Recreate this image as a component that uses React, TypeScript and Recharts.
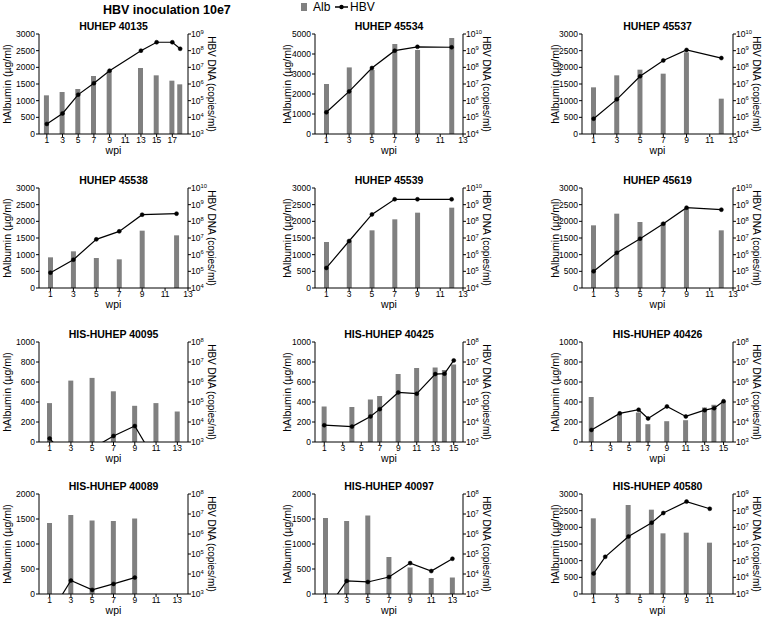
import React from 'react';
import { ComposedChart, Bar, Line, XAxis, YAxis } from 'recharts';

const FONT = '"Liberation Sans", Arial, Helvetica, sans-serif';
const BAR = '#808080';

// HUHEP 40135
const wpi40135 = [1, 3, 5, 7, 9, 13, 15, 17, 18];
const alb40135 = [1160, 1260, 1350, 1740, 1900, 1980, 1760, 1600, 1490];
const hbv40135 = [4.0e3, 1.7e4, 2.3e5, 1.1e6, 6.3e6, 1.0e8, 3.2e8, 3.2e8, 1.3e8];

// HUHEP 45534
const wpi45534 = [1, 3, 5, 7, 9, 12];
const alb45534 = [2500, 3330, 3200, 4500, 4200, 4800];
const hbv45534 = [2.0e5, 3.6e6, 9.1e7, 1.0e9, 1.7e9, 1.6e9];

// HUHEP 45537
const wpi45537 = [1, 3, 5, 7, 9, 12];
const alb45537 = [1400, 1760, 1930, 1810, 2450, 1060];
const hbv45537 = [8.3e4, 1.2e6, 2.9e7, 2.6e8, 1.1e9, 3.6e8];

// HUHEP 45538
const wpi45538 = [1, 3, 5, 7, 9, 12];
const alb45538 = [920, 1100, 900, 860, 1720, 1580];
const hbv45538 = [8.3e4, 5.0e5, 8.3e6, 2.5e7, 2.5e8, 2.9e8];

// HUHEP 45539
const wpi45539 = [1, 3, 5, 7, 9, 12];
const alb45539 = [1380, 1430, 1730, 2060, 2260, 2410];
const hbv45539 = [1.6e5, 6.6e6, 2.6e8, 2.1e9, 2.1e9, 2.1e9];

// HUHEP 45619
const wpi45619 = [1, 3, 5, 7, 9, 12];
const alb45619 = [1880, 2230, 1980, 1960, 2380, 1730];
const hbv45619 = [1.0e5, 1.3e6, 9.1e6, 7.2e7, 6.6e8, 5.0e8];

// HIS-HUHEP 40095
const wpi40095 = [1, 3, 5, 7, 9, 11, 13];
const alb40095 = [389, 614, 641, 507, 362, 389, 305];
const hbv40095 = [1.5e3, 1.0e2, 4.8e2, 2.0e3, 6.3e3, 1.0e2, null];

// HIS-HUHEP 40425
const wpi40425 = [1, 4, 6, 7, 9, 11, 13, 14, 15];
const alb40425 = [355, 350, 425, 460, 680, 740, 745, 720, 775];
const hbv40425 = [6.9e3, 5.9e3, 1.9e4, 4.4e4, 3.0e5, 2.6e5, 2.5e6, 2.6e6, 1.2e7];

// HIS-HUHEP 40426
const wpi40426 = [1, 4, 6, 7, 9, 11, 13, 14, 15];
const alb40426 = [450, 278, 295, 178, 208, 218, 345, 372, 403];
const hbv40426 = [4.0e3, 2.7e4, 4.1e4, 1.5e4, 6.0e4, 1.9e4, 3.9e4, 4.9e4, 1.1e5];

// HIS-HUHEP 40089
const wpi40089 = [1, 3, 5, 7, 9];
const alb40089 = [1420, 1580, 1470, 1460, 1510];
const hbv40089 = [9.0e1, 4.7e3, 1.6e3, 3.2e3, 6.6e3];

// HIS-HUHEP 40097
const wpi40097 = [1, 3, 5, 7, 9, 11, 13];
const alb40097 = [1520, 1460, 1570, 740, 530, 320, 330];
const hbv40097 = [1.4e2, 4.5e3, 4.0e3, 7.1e3, 3.5e4, 1.4e4, 5.8e4];

// HIS-HUHEP 40580
const wpi40580 = [1, 2, 4, 6, 7, 9, 11];
const alb40580 = [2270, null, 2670, 2530, 1820, 1840, 1540];
const hbv40580 = [1.7e4, 1.7e5, 2.8e6, 1.9e7, 7.2e7, 3.5e8, 1.3e8];

const wpiTicks17 = [1, 3, 5, 7, 9, 11, 13, 15, 17];
const wpiTicks15 = [1, 3, 5, 7, 9, 11, 13, 15];
const wpiTicks13 = [1, 3, 5, 7, 9, 11, 13];
const wpiTicks11 = [1, 3, 5, 7, 9, 11];

const albTicks3000 = [0, 500, 1000, 1500, 2000, 2500, 3000];
const albTicks5000 = [0, 1000, 2000, 3000, 4000, 5000];
const albTicks2000 = [0, 500, 1000, 1500, 2000];
const albTicks1000 = [0, 200, 400, 600, 800, 1000];

const hbvTicks3to9 = [1e3, 1e4, 1e5, 1e6, 1e7, 1e8, 1e9];
const hbvTicks4to10 = [1e4, 1e5, 1e6, 1e7, 1e8, 1e9, 1e10];
const hbvTicks3to8 = [1e3, 1e4, 1e5, 1e6, 1e7, 1e8];

const panels = [
  { title: 'HUHEP 40135', wpi: wpi40135, alb: alb40135, hbv: hbv40135, xMax: 19, xTicks: wpiTicks17, albTicks: albTicks3000, hbvTicks: hbvTicks3to9, row: 0, col: 0 },
  { title: 'HUHEP 45534', wpi: wpi45534, alb: alb45534, hbv: hbv45534, xMax: 13, xTicks: wpiTicks13, albTicks: albTicks5000, hbvTicks: hbvTicks4to10, row: 0, col: 1 },
  { title: 'HUHEP 45537', wpi: wpi45537, alb: alb45537, hbv: hbv45537, xMax: 13, xTicks: wpiTicks13, albTicks: albTicks3000, hbvTicks: hbvTicks4to10, row: 0, col: 2 },
  { title: 'HUHEP 45538', wpi: wpi45538, alb: alb45538, hbv: hbv45538, xMax: 13, xTicks: wpiTicks13, albTicks: albTicks3000, hbvTicks: hbvTicks4to10, row: 1, col: 0 },
  { title: 'HUHEP 45539', wpi: wpi45539, alb: alb45539, hbv: hbv45539, xMax: 13, xTicks: wpiTicks13, albTicks: albTicks3000, hbvTicks: hbvTicks4to10, row: 1, col: 1 },
  { title: 'HUHEP 45619', wpi: wpi45619, alb: alb45619, hbv: hbv45619, xMax: 13, xTicks: wpiTicks13, albTicks: albTicks3000, hbvTicks: hbvTicks4to10, row: 1, col: 2 },
  { title: 'HIS-HUHEP 40095', wpi: wpi40095, alb: alb40095, hbv: hbv40095, xMax: 14, xTicks: wpiTicks13, albTicks: albTicks1000, hbvTicks: hbvTicks3to8, row: 2, col: 0 },
  { title: 'HIS-HUHEP 40425', wpi: wpi40425, alb: alb40425, hbv: hbv40425, xMax: 16, xTicks: wpiTicks15, albTicks: albTicks1000, hbvTicks: hbvTicks3to8, row: 2, col: 1 },
  { title: 'HIS-HUHEP 40426', wpi: wpi40426, alb: alb40426, hbv: hbv40426, xMax: 16, xTicks: wpiTicks15, albTicks: albTicks1000, hbvTicks: hbvTicks3to8, row: 2, col: 2 },
  { title: 'HIS-HUHEP 40089', wpi: wpi40089, alb: alb40089, hbv: hbv40089, xMax: 14, xTicks: wpiTicks13, albTicks: albTicks2000, hbvTicks: hbvTicks3to8, row: 3, col: 0 },
  { title: 'HIS-HUHEP 40097', wpi: wpi40097, alb: alb40097, hbv: hbv40097, xMax: 14, xTicks: wpiTicks13, albTicks: albTicks2000, hbvTicks: hbvTicks3to8, row: 3, col: 1 },
  { title: 'HIS-HUHEP 40580', wpi: wpi40580, alb: alb40580, hbv: hbv40580, xMax: 13, xTicks: wpiTicks11, albTicks: albTicks3000, hbvTicks: hbvTicks3to9, row: 3, col: 2 },
];

// plot-area layout
const ROW_TOP = [34, 188, 342, 494];
const COLS = [
  { left: 39, width: 149, labelDx: -2 },
  { left: 315, width: 148, labelDx: 2 },
  { left: 582, width: 151, labelDx: 3 },
];
const PLOT_H = 100;
const SIDE = 60;
const PAD = 6;
const XH = 25;

const PowTick = (props: any) => {
  const { x, y, payload } = props;
  const exp = Math.round(Math.log10(payload.value));
  return (
    <text x={x} y={y} dy={3} fontSize={8.5} fill="#000" textAnchor="start">
      10
      <tspan dy={-3.5} fontSize={5.8}>{exp}</tspan>
    </text>
  );
};

function Panel({ p }: { p: any }) {
  const c = COLS[p.col];
  const top = ROW_TOP[p.row];
  const data = p.wpi.map((w: number, i: number) => ({ wpi: w, alb: p.alb[i], hbv: p.hbv[i] }));
  const albMax = p.albTicks[p.albTicks.length - 1];
  const hbvMin = p.hbvTicks[0];
  const hbvMax = p.hbvTicks[p.hbvTicks.length - 1];

  return (
    <>
      <div
        style={{
          position: 'absolute',
          left: c.left - 20,
          width: c.width + 40,
          top: top - 15,
          lineHeight: '14px',
          textAlign: 'center',
          fontWeight: 'bold',
          fontSize: 10.5,
        }}
      >
        {p.title}
      </div>
      <div style={{ position: 'absolute', left: c.left - SIDE, top: top - PAD }}>
        <ComposedChart
          width={c.width + 2 * SIDE}
          height={PAD + PLOT_H + XH}
          data={data}
          margin={{ top: PAD, right: 0, bottom: 0, left: 0 }}
        >
          <XAxis
            dataKey="wpi"
            type="number"
            domain={[0, p.xMax]}
            ticks={p.xTicks}
            interval={0}
            allowDataOverflow
            height={XH}
            tickSize={3}
            tickMargin={0}
            stroke="#000"
            tick={{ fontSize: 8.5, fill: '#000' }}
            label={{ value: 'wpi', position: 'insideBottom', offset: 5, fontSize: 10.5, fill: '#000' }}
          />
          <YAxis
            yAxisId="l"
            type="number"
            domain={[0, albMax]}
            ticks={p.albTicks}
            interval={0}
            width={SIDE}
            tickSize={3}
            tickMargin={1}
            stroke="#000"
            tick={{ fontSize: 8.5, fill: '#000' }}
            label={{ value: 'hAlbumin (µg/ml)', angle: -90, position: 'center', dx: c.labelDx, fontSize: 10.5, fill: '#000' }}
          />
          <YAxis
            yAxisId="r"
            orientation="right"
            type="number"
            scale="log"
            domain={[hbvMin, hbvMax]}
            ticks={p.hbvTicks}
            interval={0}
            allowDataOverflow
            width={SIDE}
            tickSize={3}
            tickMargin={0}
            stroke="#000"
            tick={<PowTick />}
            label={{ value: 'HBV DNA (copies/ml)', angle: 90, position: 'center', dx: -6, fontSize: 10, fill: '#000' }}
          />
          <Bar yAxisId="l" dataKey="alb" fill={BAR} barSize={5} isAnimationActive={false} />
          <Line
            yAxisId="r"
            dataKey="hbv"
            stroke="#000"
            strokeWidth={1.2}
            dot={{ r: 2, fill: '#000', stroke: '#000', strokeWidth: 0.5 }}
            isAnimationActive={false}
          />
        </ComposedChart>
      </div>
    </>
  );
}

export default function App() {
  return (
    <div
      style={{
        position: 'absolute',
        left: 0,
        top: 0,
        width: 765,
        height: 618,
        background: '#fff',
        fontFamily: FONT,
        color: '#000',
        overflow: 'hidden',
      }}
    >
      <svg width={765} height={20} style={{ position: 'absolute', left: 0, top: 0 }}>
        <text x={103} y={14} fontSize={12.5} fontWeight="bold" fill="#000">
          HBV inoculation 10e7
        </text>
        <rect x={301} y={3} width={6} height={8} fill={BAR} />
        <text x={313} y={11} fontSize={12} fill="#000">Alb</text>
        <line x1={335} x2={348} y1={7} y2={7} stroke="#000" strokeWidth={1.5} />
        <circle cx={341.5} cy={7} r={2.2} fill="#000" />
        <text x={350} y={11} fontSize={12} fill="#000">HBV</text>
      </svg>
      {panels.map((p) => (
        <Panel key={p.title} p={p} />
      ))}
    </div>
  );
}
